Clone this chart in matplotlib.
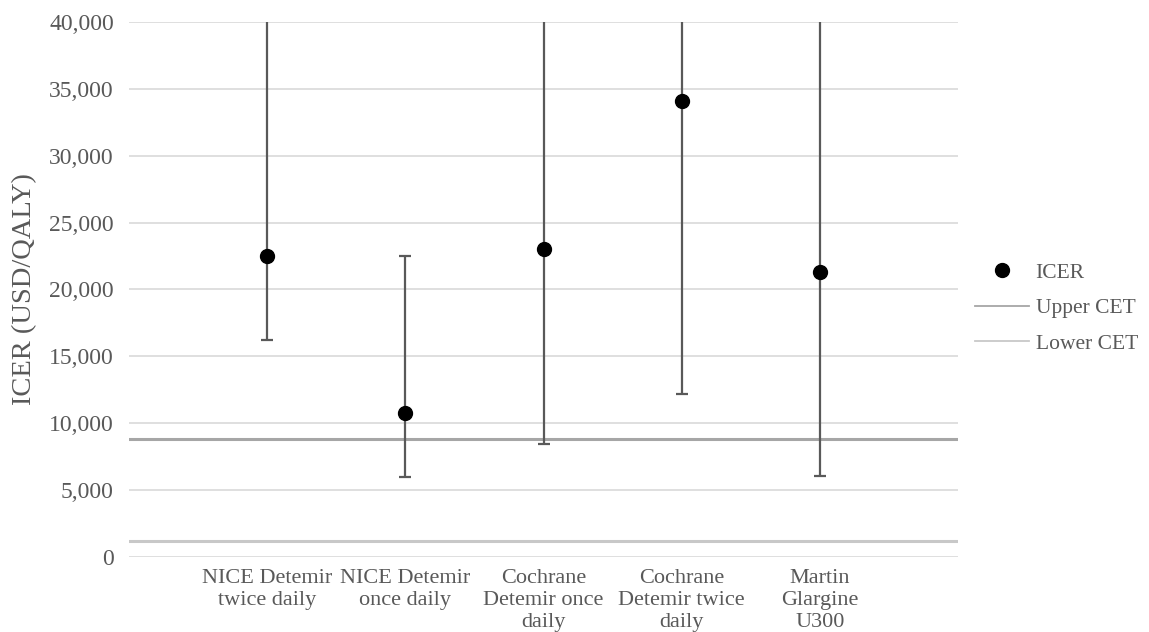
import numpy as np
import matplotlib.pyplot as plt
from matplotlib.lines import Line2D
from matplotlib.ticker import FuncFormatter

# data
categories = ["NICE Detemir\ntwice daily", "NICE Detemir\nonce daily",
              "Cochrane\nDetemir once\ndaily", "Cochrane\nDetemir twice\ndaily",
              "Martin\nGlargine\nU300"]
icer = [22500, 10750, 23000, 34100, 21300]
lower = [16200, 6000, 8450, 12200, 6050]
upper = [45000, 22500, 45000, 45000, 45000]  # values above 40,000 are cut off by the axis
upper_cet = 8850
lower_cet = 1200

text_col = "#595959"
plt.rcParams['font.family'] = ['Liberation Serif', 'DejaVu Serif']

fig = plt.figure(figsize=(11.49, 6.32), dpi=100)
ax = fig.add_axes([0.1123, 0.1187, 0.7215, 0.8465])

x = np.arange(1, len(categories) + 1)
icer = np.array(icer)
err = [icer - np.array(lower), np.array(upper) - icer]

ax.errorbar(x, icer, yerr=err, fmt='none', ecolor='#595959', elinewidth=1.6,
            capsize=4.5, capthick=1.6, zorder=3)
ax.plot(x, icer, 'o', color='black', markersize=10, zorder=4)

ax.axhline(upper_cet, color='#a6a6a6', lw=2.2, zorder=2)
ax.axhline(lower_cet, color='#c8c8c8', lw=2.2, zorder=2)

ax.set_xlim(0, 6)
ax.set_ylim(0, 40000)
ax.set_yticks(np.arange(0, 40001, 5000))
ax.yaxis.set_major_formatter(FuncFormatter(lambda v, p: f"{int(v):,}"))
ax.set_xticks(x)
ax.set_xticklabels(categories, fontsize=16, color=text_col, linespacing=1.2, va='top')
ax.tick_params(axis='y', labelsize=17, labelcolor=text_col, length=0, pad=11)
ax.tick_params(axis='x', length=0, pad=9)
ax.grid(axis='y', color='#d9d9d9', lw=1.2, zorder=1)
ax.set_axisbelow(True)
for s in ax.spines.values():
    s.set_visible(False)

ax.set_ylabel("ICER (USD/QALY)", fontsize=20.5, color=text_col)
ax.yaxis.set_label_coords(-0.111, 0.5)

handles = [Line2D([], [], marker='o', color='black', ls='none', markersize=10),
           Line2D([], [], color='#a6a6a6', lw=1.3),
           Line2D([], [], color='#c8c8c8', lw=1.3)]
leg = fig.legend(handles, ["ICER", "Upper CET", "Lower CET"], loc='upper left',
                 bbox_to_anchor=(0.832, 0.615), frameon=False, fontsize=15.5,
                 handlelength=2.5, handletextpad=0.3, labelspacing=0.72)
for t in leg.get_texts():
    t.set_color(text_col)

fig.savefig("out.png", dpi=100)
